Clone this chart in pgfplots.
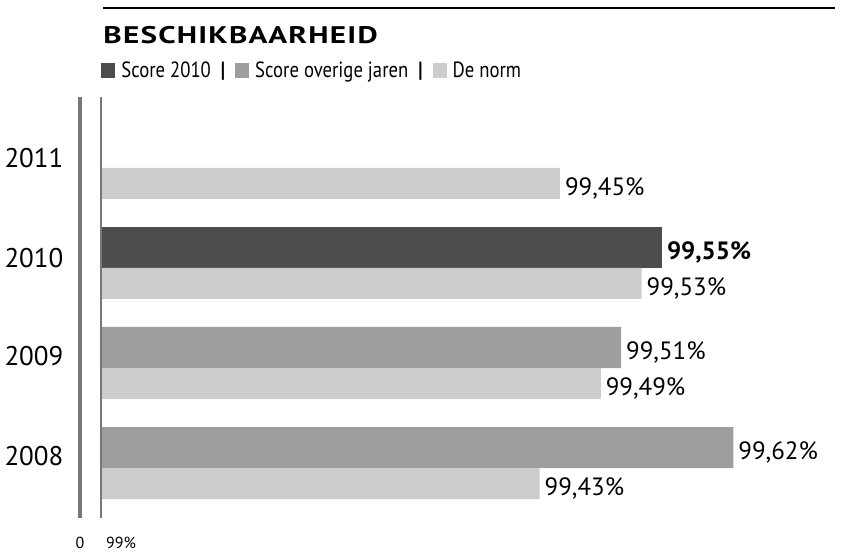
\documentclass[border=0pt]{standalone}
\usepackage{fontspec}
\setmainfont{PT Sans}
\newfontfamily\condfont{PT Sans}[FakeStretch=0.85]
\newfontfamily\widefont{PT Sans}[FakeStretch=1.3, LetterSpace=5]
\usepackage{pgfplots}
\usepackage{pgfplotstable}
\pgfplotsset{compat=1.18}
\definecolor{cdark}{HTML}{4D4D4D}
\definecolor{cmid}{HTML}{9E9E9E}
\definecolor{clight}{HTML}{CCCCCC}
\definecolor{cline}{HTML}{777777}

% g = year group (0=2008 ... 3=2011), v = percentage
\pgfplotstableread{
g v
2 99.55
}\scoretwo
\pgfplotstableread{
g v
1 99.51
0 99.62
}\scoreother
\pgfplotstableread{
g v
3 99.45
2 99.53
1 99.49
0 99.43
}\norm

\begin{document}
\begin{tikzpicture}
\begin{axis}[
  x=510pt, y=50pt,
  xmin=-0.0206, xmax=0.72, ymin=-0.5, ymax=3.71,
  clip=false,
  xbar,
  axis line style={draw=none},
  tick style={draw=none},
  xtick={-0.0206,0.0196},
  xticklabels={0,99\%},
  xticklabel style={font=\fontsize{8}{9}\selectfont, yshift=-6pt},
  ytick={0.12,1.12,2.1,3.1},
  yticklabels={2008,2009,2010,2011},
  yticklabel style={font=\fontsize{13.5}{15}\selectfont, xshift=-0.5pt},
  nodes near coords={\pgfmathprintnumber[assume math mode=true,use comma,fixed,fixed zerofill,precision=2]{\pgfplotspointmeta}\%},
  every node near coord/.append style={anchor=west, font=\fontsize{12.5}{14}\selectfont, yshift=-2.5pt, xshift=-1pt},
]
\addplot[fill=cdark, draw=none, bar width=0.41, bar shift=0.205,
  point meta=\thisrow{v},
  every node near coord/.append style={font=\fontsize{12.5}{14}\selectfont\bfseries}]
  table[x expr=\thisrow{v}-99, y=g] {\scoretwo};
\addplot[fill=cmid, draw=none, bar width=0.41, bar shift=0.205,
  point meta=\thisrow{v}]
  table[x expr=\thisrow{v}-99, y=g] {\scoreother};
\addplot[fill=clight, draw=none, bar width=0.31, bar shift=-0.155,
  point meta=\thisrow{v}]
  table[x expr=\thisrow{v}-99, y=g] {\norm};

\draw[cline, line width=2pt] (axis cs:-0.0206,-0.5) -- (axis cs:-0.0206,3.71);
\draw[cline, line width=1.2pt] (axis cs:0,-0.5) -- (axis cs:0,3.71);

\draw[black, line width=1pt] (axis cs:0.002,4.6) -- (axis cs:0.7196,4.6);
\node[anchor=base west, inner sep=0pt, font=\fontsize{12}{14}\selectfont\bfseries\widefont]
  at (axis cs:0.002,4.24) {BESCHIKBAARHEID};
\node[anchor=base west, inner sep=0pt, font=\fontsize{11}{13}\selectfont\condfont]
  at (axis cs:0.000,3.9) {%
  \textcolor{cdark}{\rule{7pt}{7.5pt}}\hspace{3pt}Score 2010\hspace{5pt}\textbf{|}\hspace{5pt}%
  \textcolor{cmid}{\rule{7pt}{7.5pt}}\hspace{3pt}Score overige jaren\hspace{5pt}\textbf{|}\hspace{5pt}%
  \textcolor{clight}{\rule{7pt}{7.5pt}}\hspace{3pt}De norm};
\coordinate (bbl) at (axis cs:-0.099,-0.9);
\coordinate (btr) at (axis cs:0.7363,4.68);
\end{axis}
\pgfresetboundingbox
\path (bbl) rectangle (btr);
\end{tikzpicture}
\end{document}
